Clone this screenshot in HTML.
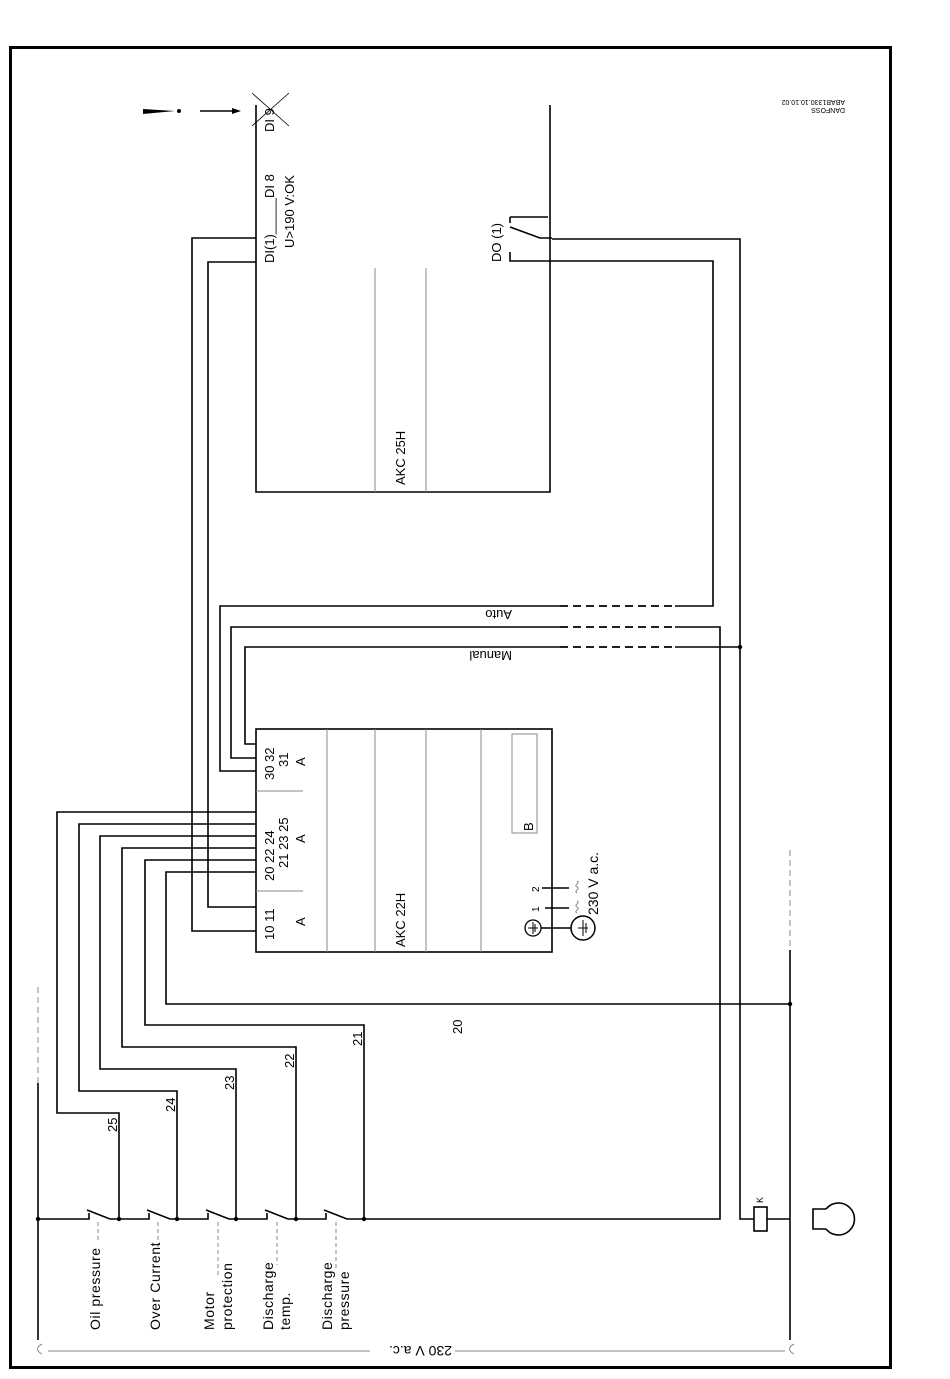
<!DOCTYPE html>
<html><head><meta charset="utf-8"><style>
html,body{margin:0;padding:0;background:#fff}
svg{display:block}
text{font-family:"Liberation Sans",sans-serif;fill:#000}
</style></head><body>
<svg width="950" height="1379" viewBox="0 0 950 1379" xmlns="http://www.w3.org/2000/svg">
<rect x="10.5" y="47.5" width="880" height="1320" fill="none" stroke="#000" stroke-width="3"/>
<g fill="none" stroke="#000" stroke-width="1.6">
<path d="M256 105V492H550V105"/>
<path d="M256 238H192V931H256"/>
<path d="M256 262H208V907H256"/>
<path d="M552 239H740V1219H754"/>
<path d="M552 261H713V606H675"/>
<path d="M510 217H548 M510 217V223 M510 227L540 238H552 M510 252V261H552"/>
<path d="M560 606H220V771H256"/>
<path d="M675 627H720V1219H364"/>
<path d="M560 627H231V758H256"/>
<path d="M675 647H740"/>
<path d="M560 647H245V744H256"/>
<rect x="256" y="729" width="296" height="223"/>
<path d="M256 812H57V1113H119V1219"/>
<path d="M256 824H79V1091H177V1219"/>
<path d="M256 836H100V1069H236V1219"/>
<path d="M256 848H122V1047H296V1219"/>
<path d="M256 860H145V1025H364V1219"/>
<path d="M256 872H166V1004H790"/>
<path d="M38 1219H89V1213 M87 1210L110 1219H149V1213 M147 1210L170 1219H208V1213 M206 1210L229 1219H267V1213 M265 1210L288 1219H326V1213 M324 1210L347 1219H364"/>
<path d="M38 1083V1340"/>
<path d="M790 950V1340"/>
<path d="M767 1219H790"/>
<rect x="754" y="1207" width="13" height="24"/>
<path d="M826 1209H813V1229H826"/>
<path d="M826 1209A16 16 0 1 1 826 1229"/>
<path d="M200 111H236"/>
<path d="M252 93L289 126 M289 93L252 126" stroke-width="0.8"/>
<path d="M542 888H569 M545 908H569 M541 928H571"/>
<circle cx="533" cy="928" r="8" stroke-width="1.3"/>
<circle cx="583" cy="928" r="12" stroke-width="1.5"/>
<path d="M528 928H538 M533 922V934 M535 924V932 M578 928H588 M583 920V936 M586 923V933" stroke-width="1"/>
</g>
<g fill="none" stroke="#000" stroke-width="1.8" stroke-dasharray="8,5">
<path d="M560 606H675 M560 627H675 M560 647H675"/>
</g>
<g fill="none" stroke="#888" stroke-width="1">
<path d="M375 268V492 M426 268V492"/>
<path d="M327 729V952 M375 729V952 M426 729V952 M481 729V952"/>
<path d="M256 791H303 M256 891H303"/>
<rect x="512" y="734" width="25" height="99"/>
<path d="M48 1351H370 M455 1351H785"/>
<path d="M38 987V1083 M790 850V950" stroke-dasharray="6,4"/>
<path d="M98 1222V1240 M158 1222V1250 M218 1222V1275 M277 1222V1265 M336 1222V1268" stroke-dasharray="4,3"/>
<path d="M42 1344c-6 3 -6 7 0 10 M794 1344c-6 3 -6 7 0 10"/>
<path d="M577 893c-4 -2 4 -4 0 -6 c-4 -2 4 -4 0 -6 M577 913c-4 -2 4 -4 0 -6 c-4 -2 4 -4 0 -6"/>
</g>
<path d="M143 109L175 111L143 114Z" fill="#000"/>
<circle cx="179" cy="111" r="2" fill="#000"/>
<path d="M241 111L232 108V114Z" fill="#000"/>
<g fill="#000">
<circle cx="38" cy="1219" r="2.2"/><circle cx="119" cy="1219" r="2.2"/><circle cx="177" cy="1219" r="2.2"/>
<circle cx="236" cy="1219" r="2.2"/><circle cx="296" cy="1219" r="2.2"/><circle cx="364" cy="1219" r="2.2"/>
<circle cx="790" cy="1004" r="2.2"/><circle cx="740" cy="647" r="2.2"/>
</g>
<g font-size="13">
<g font-size="14" letter-spacing="0.6">
<text transform="translate(100 1330) rotate(-90)">Oil pressure</text>
<text transform="translate(160 1330) rotate(-90)">Over Current</text>
<text transform="translate(214 1330) rotate(-90)">Motor</text>
<text transform="translate(232 1330) rotate(-90)">protection</text>
<text transform="translate(273 1330) rotate(-90)">Discharge</text>
<text transform="translate(290 1330) rotate(-90)">temp.</text>
<text transform="translate(332 1330) rotate(-90)">Discharge</text>
<text transform="translate(349 1330) rotate(-90)">pressure</text>
</g>
<text transform="translate(117 1132) rotate(-90)">25</text>
<text transform="translate(175 1112) rotate(-90)">24</text>
<text transform="translate(234 1090) rotate(-90)">23</text>
<text transform="translate(294 1068) rotate(-90)">22</text>
<text transform="translate(362 1046) rotate(-90)">21</text>
<text transform="translate(462 1034) rotate(-90)">20</text>
<text transform="translate(274 940) rotate(-90)">10 11</text>
<text transform="translate(305 926) rotate(-90)">A</text>
<text transform="translate(274 881) rotate(-90)">20 22 24</text>
<text transform="translate(288 868) rotate(-90)">21 23 25</text>
<text transform="translate(305 843) rotate(-90)">A</text>
<text transform="translate(274 780) rotate(-90)">30 32</text>
<text transform="translate(288 767) rotate(-90)">31</text>
<text transform="translate(305 766) rotate(-90)">A</text>
<text transform="translate(405 947) rotate(-90)">AKC 22H</text>
<text transform="translate(405 485) rotate(-90)">AKC 25H</text>
<text transform="translate(533 831) rotate(-90)">B</text>
<text font-size="10" transform="translate(539 912) rotate(-90)">1</text>
<text font-size="10" transform="translate(539 892) rotate(-90)">2</text>
<text font-size="14" transform="translate(598 915) rotate(-90)">230 V a.c.</text>
<text transform="translate(274 263) rotate(-90)">DI(1)_____DI 8</text>
<text transform="translate(294 248) rotate(-90)">U&gt;190 V:OK</text>
<text transform="translate(274 132) rotate(-90)">DI 9</text>
<text transform="translate(501 262) rotate(-90)">DO  (1)</text>
<text transform="translate(512 610) rotate(180)">Auto</text>
<text transform="translate(512 651) rotate(180)">Manual</text>
<text font-size="14" transform="translate(452 1346) rotate(180)">230 V a.c.</text>
<text font-size="7" transform="translate(845 100) rotate(180)">ABAB1330.10.10.02</text>
<text font-size="7" transform="translate(845 108) rotate(180)">DANFOSS</text>
<text font-size="9" transform="translate(763 1203) rotate(-90)">K</text>
</g>
</svg>
</body></html>
